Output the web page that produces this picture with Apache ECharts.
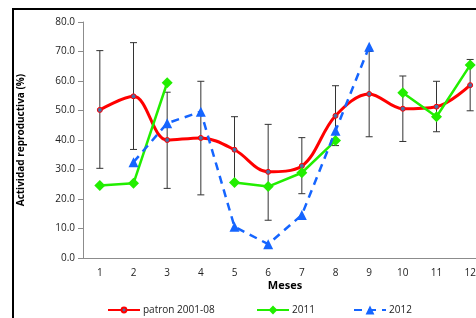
<!DOCTYPE html>
<html>
<head>
<meta charset="utf-8">
<script src="https://cdn.jsdelivr.net/npm/echarts@6/dist/echarts.min.js"></script>
<style>
    html, body { margin: 0; padding: 0; background: #fff; }
    #chart { width: 476px; height: 318px; }
</style>
</head>
<body>
<div id="chart"></div>
<script>
const months = ["1", "2", "3", "4", "5", "6", "7", "8", "9", "10", "11", "12"];
const patron = [50.2, 54.8, 40.0, 40.7, 36.7, 29.2, 31.2, 48.2, 55.6, 50.6, 51.3, 58.6];
const patronLow = [30.4, 36.8, 23.6, 21.4, 25.5, 12.8, 21.8, 38.1, 41.1, 39.5, 42.8, 49.9];
const patronHigh = [70.3, 73.0, 56.2, 59.9, 47.9, 45.3, 40.8, 58.4, 70.0, 61.7, 59.9, 67.3];
const y2011 = [24.6, 25.3, 59.4, null, 25.6, 24.2, 28.9, 39.8, null, 56.0, 47.9, 65.4];
const y2012 = [null, 32.5, 45.7, 49.6, 10.6, 4.7, 14.6, 43.1, 71.6, null, null, null];
const legendNames = ["patron 2001-08", "2011", "2012"];

const chart = echarts.init(document.getElementById("chart"));

const font = "'Open Sans', 'Liberation Sans', sans-serif";

function legendAt(name, left, size) {
    return {
        left,
        top: 300,
        itemWidth: 32,
        itemHeight: size,
        textStyle: { fontSize: 10, color: "#222", fontFamily: font, padding: [0, 0, 0, -2] },
        data: [name]
    };
}

chart.setOption({
    animation: false,
    textStyle: { fontFamily: font },
    graphic: [
        {
            type: "rect",
            shape: { x: 13, y: 9, width: 500, height: 400 },
            style: { fill: "none", stroke: "#000", lineWidth: 2 },
            z: 100
        }
    ],
    grid: {
        left: 83,
        top: 22,
        width: 404,
        height: 236,
        outerBoundsMode: "none",
        containLabel: false
    },
    legend: [
        legendAt(legendNames[0], 102, 6),
        legendAt(legendNames[1], 251, 11),
        legendAt(legendNames[2], 348, 11)
    ],
    xAxis: {
        type: "category",
        data: months,
        name: "Meses",
        nameLocation: "middle",
        nameGap: 22,
        nameMoveOverlap: false,
        nameTextStyle: { fontSize: 11, fontWeight: "bold", color: "#000" },
        axisLine: { lineStyle: { color: "#8c8c8c" } },
        axisTick: { lineStyle: { color: "#8c8c8c" }, length: 4 },
        axisLabel: { fontSize: 10, color: "#222", margin: 10 }
    },
    yAxis: {
        type: "value",
        min: 0,
        max: 80,
        interval: 10,
        name: "Actividad reproductiva (%)",
        nameLocation: "middle",
        nameGap: 57,
        nameMoveOverlap: false,
        nameTextStyle: { fontSize: 10, fontWeight: "bold", color: "#000" },
        axisLine: { show: true, lineStyle: { color: "#8c8c8c" } },
        axisTick: { show: true, lineStyle: { color: "#8c8c8c" }, length: 5 },
        splitLine: { show: false },
        axisLabel: {
            fontSize: 10,
            color: "#222",
            formatter: v => v.toFixed(1)
        }
    },
    series: [
        {
            name: "errores",
            type: "custom",
            z: 1,
            data: months.map((m, i) => [i, patronLow[i], patronHigh[i]]),
            renderItem: (params, api) => {
                const lo = api.coord([api.value(0), api.value(1)]);
                const hi = api.coord([api.value(0), api.value(2)]);
                const cap = 3.5;
                const style = { stroke: "#333", lineWidth: 1 };
                return {
                    type: "group",
                    children: [
                        { type: "line", shape: { x1: hi[0], y1: hi[1], x2: lo[0], y2: lo[1] }, style },
                        { type: "line", shape: { x1: hi[0] - cap, y1: hi[1], x2: hi[0] + cap, y2: hi[1] }, style },
                        { type: "line", shape: { x1: lo[0] - cap, y1: lo[1], x2: lo[0] + cap, y2: lo[1] }, style }
                    ]
                };
            }
        },
        {
            name: legendNames[0],
            type: "line",
            smooth: 0.35,
            z: 3,
            data: patron,
            symbol: "circle",
            symbolSize: 5,
            itemStyle: { color: "#4a6fa5", borderColor: "#ff0000", borderWidth: 1 },
            lineStyle: { color: "#ff0000", width: 3 }
        },
        {
            name: legendNames[1],
            type: "line",
            z: 4,
            data: y2011,
            symbol: "diamond",
            symbolSize: 11,
            itemStyle: { color: "#22ee00" },
            lineStyle: { color: "#22ee00", width: 2.5 }
        },
        {
            name: legendNames[2],
            type: "line",
            z: 5,
            data: y2012,
            symbol: "triangle",
            symbolSize: 10,
            itemStyle: { color: "#1565ff" },
            lineStyle: { color: "#1565ff", width: 2.5, type: [8, 6] }
        }
    ]
});
</script>
</body>
</html>
